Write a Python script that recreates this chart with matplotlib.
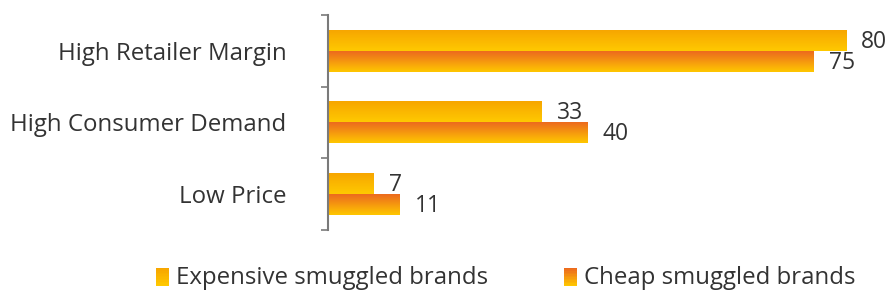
import numpy as np
import matplotlib
matplotlib.use('Agg')
import matplotlib.pyplot as plt
from matplotlib.colors import LinearSegmentedColormap, to_rgb
from matplotlib.patches import Rectangle
from matplotlib.legend_handler import HandlerBase

# === Data ===
categories = ["High Retailer Margin", "High Consumer Demand", "Low Price"]
series_names = ["Expensive smuggled brands", "Cheap smuggled brands"]
expensive = [80, 33, 7]
cheap = [75, 40, 11]

# gradient colours (top, bottom)
grad_expensive = ("#F7A600", "#FFC900")
grad_cheap = ("#EC6A1E", "#FFC700")

text_color = "#333333"
plt.rcParams['font.family'] = ['Open Sans', 'DejaVu Sans']


def gradient_bar(ax, rect, colors):
    cmap = LinearSegmentedColormap.from_list("g", list(colors))
    x0, y0 = rect.get_x(), rect.get_y()
    w, h = rect.get_width(), rect.get_height()
    grad = np.linspace(0, 1, 64).reshape(-1, 1)
    # axis is inverted: y0 is the visual top
    ax.imshow(grad, cmap=cmap, aspect='auto', interpolation='bicubic',
              extent=(x0, x0 + w, y0 + h, y0), origin='upper', zorder=2)
    rect.set_visible(False)


class GradientHandler(HandlerBase):
    def __init__(self, colors):
        super().__init__()
        self.colors = colors

    def create_artists(self, legend, orig_handle, xdescent, ydescent,
                       width, height, fontsize, trans):
        c0, c1 = np.array(to_rgb(self.colors[0])), np.array(to_rgb(self.colors[1]))
        sh = height * 1.1
        sw = sh * 0.7
        x = xdescent + width - sw
        y = -ydescent - (sh - height) / 2 - 1
        n = 12
        arts = []
        for i in range(n):
            t = i / (n - 1)
            col = c1 * (1 - t) + c0 * t
            r = Rectangle((x, y + sh * i / n), sw, sh / n + 0.05,
                          facecolor=col, edgecolor='none', transform=trans)
            arts.append(r)
        return arts


fig = plt.figure(figsize=(8.9, 2.97), dpi=100)
ax = fig.add_axes([0.3685, 0.2256, 0.62, 0.7239])

y = np.arange(len(categories))
h = 0.29
bars_e = ax.barh(y - h / 2, expensive, height=h)
bars_c = ax.barh(y + h / 2, cheap, height=h)

ax.set_ylim(2.5, -0.5)
ax.set_xlim(0, 85.2)

for r in bars_e:
    gradient_bar(ax, r, grad_expensive)
for r in bars_c:
    gradient_bar(ax, r, grad_cheap)

for yy, v in zip(y - h / 2, expensive):
    ax.annotate(str(v), (v, yy), xytext=(11, -1), textcoords='offset points',
                va='center', ha='left', fontsize=16.5, color=text_color)
for yy, v in zip(y + h / 2, cheap):
    ax.annotate(str(v), (v, yy), xytext=(11, -1), textcoords='offset points',
                va='center', ha='left', fontsize=16.5, color=text_color)

# axes styling
for s in ['top', 'right', 'bottom']:
    ax.spines[s].set_visible(False)
ax.spines['left'].set_color('#7a7a7a')
ax.spines['left'].set_linewidth(1.5)
ax.set_xticks([])
ax.set_yticks(y)
ax.set_yticklabels(categories, fontsize=17.3, color=text_color)
ax.tick_params(axis='y', which='major', length=0, pad=30)
ax.set_yticks([-0.5, 0.5, 1.5, 2.5], minor=True)
ax.tick_params(axis='y', which='minor', length=5, width=1.2, color='#7a7a7a')

handles = [Rectangle((0, 0), 1, 1), Rectangle((0, 0), 1, 1)]
leg = fig.legend(handles, series_names, loc='lower center',
                 bbox_to_anchor=(0.568, -0.05), ncol=2, frameon=False,
                 fontsize=17.3, handlelength=0.55, handletextpad=0.3,
                 columnspacing=3.15,
                 handler_map={handles[0]: GradientHandler(grad_expensive),
                              handles[1]: GradientHandler(grad_cheap)})
for t in leg.get_texts():
    t.set_color(text_color)

fig.savefig("out.png", dpi=100)
